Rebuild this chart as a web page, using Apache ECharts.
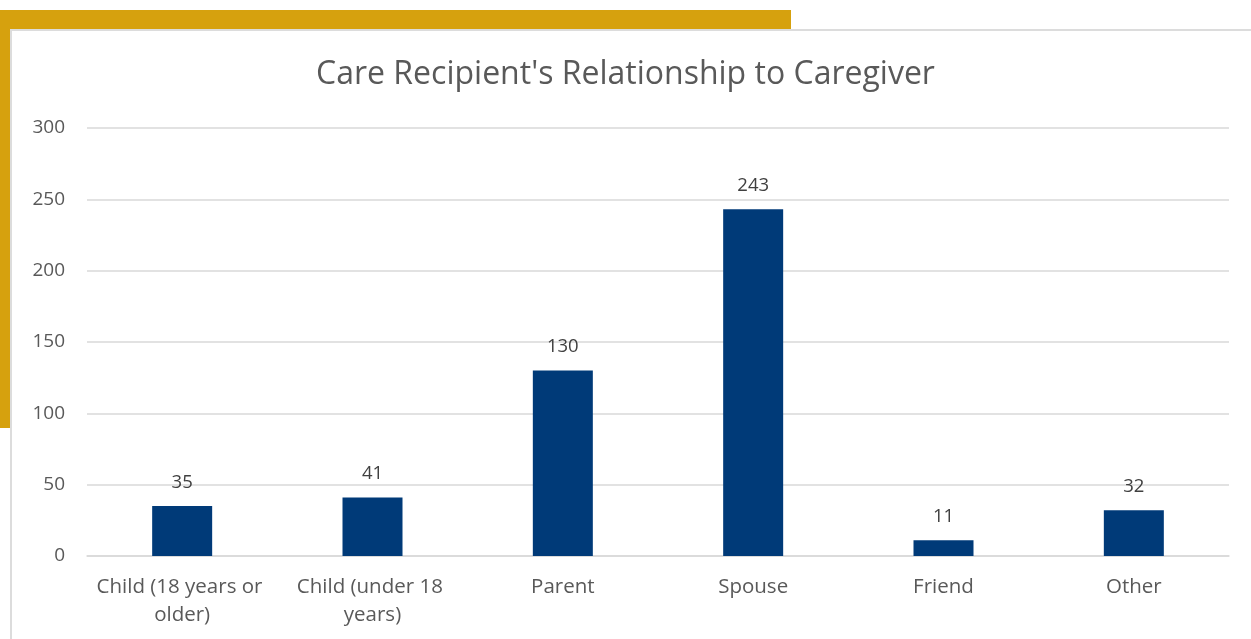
<!DOCTYPE html>
<html>
<head>
<meta charset="utf-8">
<script src="https://cdn.jsdelivr.net/npm/echarts@6/dist/echarts.min.js"></script>
<style>
  html, body { margin: 0; padding: 0; background: #fff; }
  .page { position: relative; width: 1251px; height: 639px; overflow: hidden; }
  .gold-top { position: absolute; left: 0; top: 10px; width: 791px; height: 19px; background: #D6A10E; }
  .gold-left { position: absolute; left: 0; top: 10px; width: 10px; height: 418px; background: #D6A10E; }
  .panel { position: absolute; left: 10px; top: 29px; right: 0; bottom: 0;
           border-top: 2px solid #dcdcdc; border-left: 2px solid #dcdcdc; background: #fff; }
  #chart { position: absolute; left: 0; top: 0; width: 1251px; height: 639px; }
</style>
</head>
<body>
<div class="page">
  <div class="panel"></div>
  <div class="gold-top"></div>
  <div class="gold-left"></div>
  <div id="chart"></div>
</div>
<script>
// chart data
var categories = ['Child (18 years or older)', 'Child (under 18 years)', 'Parent', 'Spouse', 'Friend', 'Other'];
var counts = [35, 41, 130, 243, 11, 32];
var yTicks = [0, 50, 100, 150, 200, 250, 300];

var textFont = '"Open Sans", "Noto Sans", sans-serif';
var greyText = '#595959';

var chart = echarts.init(document.getElementById('chart'));
chart.setOption({
  backgroundColor: 'transparent',
  animation: false,
  title: {
    text: "Care Recipient's Relationship to Caregiver",
    left: 'center',
    top: 54,
    textStyle: { fontFamily: textFont, fontSize: 32, fontWeight: 'normal', color: greyText }
  },
  grid: { left: 87, right: 22, top: 128, bottom: 83 },
  xAxis: {
    type: 'category',
    data: categories,
    axisLine: { lineStyle: { color: '#d9d9d9', width: 1.5 } },
    axisTick: { show: false },
    axisLabel: {
      interval: 0,
      color: greyText,
      fontFamily: textFont,
      fontSize: 20.5,
      lineHeight: 28,
      margin: 17,
      width: 185,
      overflow: 'break'
    }
  },
  yAxis: {
    type: 'value',
    min: yTicks[0],
    max: yTicks[yTicks.length - 1],
    interval: 50,
    axisLine: { show: false },
    axisTick: { show: false },
    splitLine: { lineStyle: { color: '#d9d9d9', width: 1.5 } },
    axisLabel: { color: greyText, fontFamily: textFont, fontSize: 19, margin: 22 }
  },
  series: [{
    type: 'bar',
    data: counts,
    barWidth: 60,
    itemStyle: { color: '#003A78' },
    label: {
      show: true,
      position: 'top',
      distance: 14,
      color: '#404040',
      fontFamily: textFont,
      fontSize: 18.5
    }
  }]
});
</script>
</body>
</html>
